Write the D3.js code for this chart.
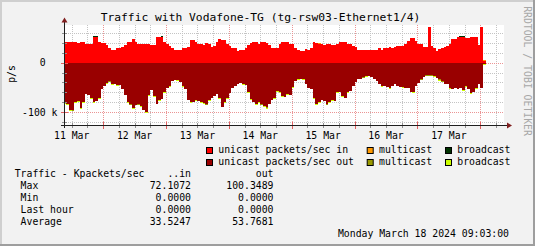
<!DOCTYPE html>
<html>
<head>
<meta charset="utf-8">
<script src="https://cdn.jsdelivr.net/npm/d3@7"></script>
<style>
  body { margin: 0; background: #f2f2f2; }
  svg { display: block; font-family: "DejaVu Sans Mono", monospace; }
  text { white-space: pre; }
</style>
</head>
<body>
<svg id="chart" width="535" height="246"></svg>
<script>
// graph window (UTC), hourly samples start at firstSample
const startTime = new Date(Date.UTC(2024, 2, 11, 9, 3));
const endTime = new Date(Date.UTC(2024, 2, 18, 9, 3));
const firstSample = new Date(Date.UTC(2024, 2, 11, 9, 0));

// Kpackets/sec, one value per hour
const unicastIn = [42.2,42.2,40.8,42.2,42.2,40.1,42.2,42.2,38.1,38.1,38.1,
  52.4,52.4,42.2,38.8,38.8,35.4,28.6,25.2,24.5,28.6,
  28.6,31.3,35.4,42.2,42.2,47.6,40.8,38.1,38.1,37.4,
  38.1,38.1,35.4,35.4,51.0,51.0,52.4,40.8,36.7,32.7,
  28.6,24.5,24.5,24.5,28.6,28.6,31.3,46.3,46.3,42.2,
  38.1,38.1,35.4,39.5,38.1,31.3,34.0,40.8,47.6,46.3,
  46.3,38.1,32.7,28.6,28.6,23.1,24.5,24.5,29.9,35.4,
  39.5,42.2,42.2,38.1,40.8,42.2,39.5,35.4,29.9,29.9,
  28.6,38.1,42.2,42.2,40.8,38.1,38.1,29.9,24.5,23.1,
  23.1,27.2,24.5,29.9,40.8,39.5,38.1,37.1,35.4,38.1,
  38.1,35.4,35.4,38.1,40.8,40.8,40.8,38.1,38.1,34.0,
  31.3,25.9,25.9,24.5,24.5,24.5,24.5,24.5,24.5,28.6,
  24.5,29.9,28.6,31.3,28.6,31.3,32.7,34.0,34.0,38.1,
  43.5,50.3,49.0,43.5,38.1,36.7,31.3,31.3,72.1,34.0,
  29.9,23.1,27.2,28.6,31.3,34.0,36.7,47.6,47.6,51.7,
  52.4,52.4,50.3,49.0,51.7,51.7,51.7,35.4,71.5,4.1];

const multicastIn = [0.3,0.3,0.3,0.3,0.3,0.3,0.3,0.3,0.3,0.3,0.3,
  0.3,0.3,0.3,0.3,0.3,0.3,0.3,0.3,0.3,0.3,
  0.3,0.3,0.3,0.3,0.3,0.3,0.3,0.3,0.3,0.3,
  0.3,0.3,0.3,0.3,0.3,0.3,0.3,0.3,0.3,0.3,
  0.3,0.3,0.3,0.3,0.3,0.3,0.3,0.3,0.3,0.3,
  0.3,0.3,0.3,0.3,0.3,0.3,0.3,0.3,0.3,0.3,
  0.3,0.3,0.3,0.3,0.3,0.3,0.3,0.3,0.3,0.3,
  0.3,0.3,0.3,0.3,0.3,0.3,0.3,0.3,0.3,0.3,
  0.3,0.3,0.3,0.3,1.5,0.3,0.3,0.3,0.3,0.3,
  0.3,0.3,0.3,0.3,0.3,0.3,1.2,0.3,0.3,0.3,
  0.3,0.3,0.3,0.3,0.3,0.3,0.3,0.3,0.3,0.3,
  0.3,0.3,0.3,0.3,0.3,0.3,0.3,0.3,0.3,0.3,
  0.3,0.3,0.3,0.3,0.3,0.3,0.3,0.3,0.3,0.3,
  0.3,0.3,0.3,0.3,0.3,0.3,0.3,0.3,0.3,0.3,
  0.3,0.3,0.3,0.3,0.3,0.3,0.3,0.3,0.3,0.3,
  0.3,0.3,0.3,0.3,0.3,0.3,0.3,0.3,0.3,0.3];

const broadcastIn = [0.1,0.1,0.1,0.1,0.1,0.1,0.1,0.1,0.1,0.1,0.1,
  0.1,0.1,0.1,0.1,0.1,0.1,0.1,0.1,0.1,0.1,
  0.1,0.1,0.1,0.1,0.1,0.1,0.1,0.1,0.1,0.1,
  0.1,0.1,0.1,0.1,0.1,0.1,0.1,0.1,0.1,0.1,
  0.1,0.1,0.1,0.1,0.1,0.1,0.1,0.1,0.1,0.1,
  0.1,0.1,0.1,0.1,0.1,0.1,0.1,0.1,0.1,0.1,
  0.1,0.1,0.1,0.1,0.1,0.1,0.1,0.1,0.1,0.1,
  0.1,0.1,0.1,0.1,0.1,0.1,0.1,0.1,0.1,0.1,
  0.1,0.1,0.1,0.1,0.1,0.1,0.1,0.1,0.1,0.1,
  0.1,0.1,0.1,0.1,0.1,0.1,0.1,0.1,0.1,0.1,
  0.1,0.1,0.1,0.1,0.1,0.1,0.1,0.1,0.1,0.1,
  0.1,0.1,0.1,0.1,0.1,0.1,0.1,0.1,0.1,0.1,
  0.1,0.1,0.1,0.1,0.1,0.1,0.1,0.1,0.1,0.1,
  0.1,0.1,0.1,0.1,0.1,0.1,0.1,0.1,0.1,0.1,
  0.1,0.1,0.1,0.1,0.1,0.1,0.1,0.1,0.1,0.1,
  0.1,0.1,0.1,0.1,0.1,0.1,0.1,0.1,0.1,0.1];

const unicastOut = [81.6,83.0,95.2,96.6,80.3,77.6,91.2,80.3,63.3,65.3,70.7,
  78.9,77.6,72.1,53.1,46.3,40.8,38.1,43.5,43.5,44.9,
  44.9,53.1,65.3,80.3,84.4,91.2,85.7,84.4,88.4,95.2,
  100.3,64.6,55.8,68.0,83.0,76.2,72.8,59.9,51.7,46.3,
  36.7,35.4,35.4,39.5,46.3,53.1,74.8,80.3,78.9,76.2,
  77.6,80.3,82.3,84.4,76.2,70.7,66.7,62.6,72.1,89.8,
  80.3,72.1,61.2,50.3,46.3,42.2,40.8,42.9,44.9,59.9,
  73.5,78.9,83.0,80.3,84.4,87.1,90.5,83.0,74.8,72.1,
  56.5,59.9,68.0,69.4,63.9,65.3,48.3,36.7,32.7,32.7,
  32.7,42.2,50.3,53.1,72.1,83.0,80.3,74.8,77.6,84.4,
  80.3,74.8,77.6,59.9,58.5,68.0,70.7,59.9,56.5,46.3,
  39.5,32.7,32.7,29.9,27.2,27.2,28.6,32.7,36.7,42.9,
  47.6,46.3,49.0,50.3,46.3,43.5,46.3,49.0,49.0,50.3,
  51.7,58.5,59.9,46.3,40.8,34.0,28.6,25.9,25.9,25.9,
  27.2,31.3,34.0,38.1,42.2,43.5,51.7,53.1,51.7,53.1,
  51.7,54.4,47.6,53.1,61.2,58.5,50.3,43.5,50.3,3.4];

const multicastOut = [0.2,0.2,0.2,0.2,0.2,0.2,0.2,0.2,0.2,0.2,0.2,
  0.2,0.2,0.2,0.2,0.2,0.2,0.2,0.2,0.2,0.2,
  0.2,0.2,0.2,0.2,0.2,0.2,0.2,0.2,0.2,0.2,
  0.2,0.2,0.2,0.2,0.2,0.2,0.2,0.2,0.2,0.2,
  0.2,0.2,0.2,0.2,0.2,0.2,0.2,0.2,0.2,0.2,
  0.2,0.2,0.2,0.2,0.2,0.2,0.2,0.2,0.2,0.2,
  0.2,0.2,0.2,0.2,0.2,0.2,0.2,0.2,0.2,0.2,
  0.2,0.2,0.2,0.2,0.2,0.2,0.2,0.2,0.2,0.2,
  0.2,0.2,0.2,0.2,0.2,0.2,0.2,0.2,0.2,0.2,
  0.2,0.2,0.2,0.2,0.2,0.2,0.2,0.2,0.2,0.2,
  0.2,0.2,0.2,0.2,0.2,0.2,0.2,0.2,0.2,0.2,
  0.2,0.2,0.2,0.2,0.2,0.2,0.2,0.2,0.2,0.2,
  0.2,0.2,0.2,0.2,0.2,0.2,0.2,0.2,0.2,0.2,
  0.2,0.2,0.2,0.2,0.2,0.2,0.2,0.2,0.2,0.2,
  0.2,0.2,0.2,0.2,0.2,0.2,0.2,0.2,0.2,0.2,
  0.2,0.2,0.2,0.2,0.2,0.2,0.2,0.2,0.2,0.2];

const broadcastOut = [2,2,2,0.3,0.3,2,2,0.3,0.3,0.3,2,
  2,0.3,0.3,0.3,0.3,2,0.3,2,0.3,2,
  0.3,0.3,0.3,0.3,0.3,2,0.3,2,0.3,0.3,
  2,2,0.3,0.3,0.3,0.3,0.3,2,0.3,2,
  0.3,0.3,2,0.3,2,0.3,0.3,0.3,0.3,2,
  0.3,0.3,2,0.3,2,0.3,0.3,0.3,0.3,0.3,
  0.3,2,0.3,0.3,0.3,0.3,0.3,2,0.3,0.3,
  2,0.3,2,0.3,0.3,2,2,0.3,0.3,0.3,
  2,0.3,0.3,0.3,0.3,0.3,2,0.3,2,0.3,
  2,0.3,0.3,0.3,0.3,2,0.3,0.3,0.3,0.3,
  0.3,2,0.3,0.3,0.3,2,0.3,0.3,0.3,0.3,
  0.3,0.3,0.3,0.3,2,0.3,0.3,0.3,0.3,0.3,
  2,0.3,0.3,2,0.3,0.3,0.3,0.3,2,0.3,
  0.3,0.3,2,0.3,0.3,0.3,0.3,0.3,0.3,0.3,
  2,0.3,2,0.3,0.3,0.3,2,0.3,0.3,0.3,
  0.3,2,2,0.3,2,0.3,2,0.3,0.3,2];

const yMajorTicks = [0, -100];
const yMinorTicks = [60, 40, 20, -20, -40, -60, -80, -120];

const legendRows = [
  [{ label: "unicast packets/sec in", color: "#ff0000" }, { label: "multicast", color: "#ff9900" }, { label: "broadcast", color: "#003300" }],
  [{ label: "unicast packets/sec out", color: "#990000" }, { label: "multicast", color: "#999900" }, { label: "broadcast", color: "#ccff00" }]
];
const statNames = ["Max", "Min", "Last hour", "Average"];
const statIn = ["72.1072", "0.0000", "0.0000", "33.5247"];
const statOut = ["100.3489", "0.0000", "0.0000", "53.7681"];

function build() {
    let svg = d3.select('#chart');
    let plot = { left: 64, right: 504, top: 25, bottom: 125 };

    // frame + background
    svg.append('rect').attr('width', 535).attr('height', 246).attr('fill', '#f2f2f2');
    svg.append('path').attr('d', 'M0,0H535V2H2V246H0Z').attr('fill', '#cfcfcf');
    svg.append('path').attr('d', 'M535,0V246H0V244H533V0Z').attr('fill', '#9e9e9e');
    svg.append('rect')
    .attr('x', plot.left).attr('y', plot.top)
    .attr('width', plot.right - plot.left).attr('height', plot.bottom - plot.top)
    .attr('fill', '#ffffff');

    let x = d3.scaleUtc()
    .domain([startTime, endTime])
    .range([plot.left, plot.right]);

    let y = d3.scaleLinear()
    .domain([-126, 76])
    .range([plot.bottom, plot.top]);

    // grid
    let grid = svg.append('g').attr('class', 'grid');
    let minorX = d3.utcHour.every(6).range(startTime, endTime).filter(d => d.getUTCHours() !== 0);
    let majorX = d3.utcDay.range(startTime, endTime);
    grid.selectAll('line.vminor').data(minorX).enter().append('line')
    .attr('x1', d => Math.round(x(d)) + 0.5).attr('x2', d => Math.round(x(d)) + 0.5)
    .attr('y1', plot.top).attr('y2', plot.bottom)
    .attr('stroke', '#c4c4c4').attr('stroke-dasharray', '1,1');
    grid.selectAll('line.hminor').data(yMinorTicks).enter().append('line')
    .attr('x1', plot.left).attr('x2', plot.right)
    .attr('y1', d => Math.round(y(d)) + 0.5).attr('y2', d => Math.round(y(d)) + 0.5)
    .attr('stroke', '#c4c4c4').attr('stroke-dasharray', '1,1');
    grid.selectAll('line.vmajor').data(majorX).enter().append('line')
    .attr('x1', d => Math.round(x(d)) + 0.5).attr('x2', d => Math.round(x(d)) + 0.5)
    .attr('y1', plot.top).attr('y2', plot.bottom)
    .attr('stroke', '#eb9595').attr('stroke-dasharray', '1,1');
    grid.selectAll('line.hmajor').data(yMajorTicks).enter().append('line')
    .attr('x1', plot.left).attr('x2', plot.right)
    .attr('y1', d => Math.round(y(d)) + 0.5).attr('y2', d => Math.round(y(d)) + 0.5)
    .attr('stroke', '#eb9595').attr('stroke-dasharray', '1,1');

    // rows for the stack, plus one extra row to close the last step
    let rows = unicastIn.map((v, i) => ({
        t: d3.utcHour.offset(firstSample, i),
        ui: v, mi: multicastIn[i], bi: broadcastIn[i],
        uo: -unicastOut[i], mo: -multicastOut[i], bo: -broadcastOut[i]
    }));
    rows.push(Object.assign({}, rows[rows.length - 1], { t: d3.utcHour.offset(firstSample, rows.length) }));

    let stackIn = d3.stack().keys(['ui', 'mi', 'bi'])(rows);
    let stackOut = d3.stack().keys(['uo', 'mo', 'bo']).offset(d3.stackOffsetDiverging)(rows);
    let colors = { ui: '#ff0000', mi: '#ff9900', bi: '#003300', uo: '#990000', mo: '#999900', bo: '#ccff00' };

    let area = d3.area()
    .curve(d3.curveStepAfter)
    .x(d => x(d.data.t))
    .y0(d => y(d[0]))
    .y1(d => y(d[1]));

    svg.append('defs').append('clipPath')
    .attr('id', 'clip')
    .append('rect')
    .attr('x', plot.left).attr('y', plot.top)
    .attr('width', plot.right - plot.left).attr('height', plot.bottom - plot.top);

    svg.append('g')
    .attr('clip-path', 'url(#clip)')
    .selectAll('path')
    .data(stackIn.concat(stackOut))
    .enter()
    .append('path')
    .attr('d', area)
    .attr('fill', d => colors[d.key])
    .attr('shape-rendering', 'crispEdges');

    // axes
    let axes = svg.append('g');
    minorX.forEach(d => {
        let px = Math.round(x(d)) + 0.5;
        axes.append('line').attr('x1', px).attr('x2', px).attr('y1', 123).attr('y2', 128).attr('stroke', '#909090');
    });
    majorX.forEach(d => {
        let px = Math.round(x(d)) + 0.5;
        axes.append('line').attr('x1', px).attr('x2', px).attr('y1', 122).attr('y2', 129).attr('stroke', '#e06060');
    });
    yMinorTicks.forEach(d => {
        let py = Math.round(y(d)) + 0.5;
        axes.append('line').attr('x1', 62).attr('x2', 67).attr('y1', py).attr('y2', py).attr('stroke', '#909090');
    });
    yMajorTicks.forEach(d => {
        let py = Math.round(y(d)) + 0.5;
        axes.append('line').attr('x1', 61).attr('x2', 68).attr('y1', py).attr('y2', py).attr('stroke', '#e06060');
    });
    axes.append('line').attr('x1', 61).attr('x2', 508).attr('y1', 125.5).attr('y2', 125.5).attr('stroke', '#1f1f1f');
    axes.append('line').attr('x1', 64.5).attr('x2', 64.5).attr('y1', 21).attr('y2', 128).attr('stroke', '#1f1f1f');
    axes.append('path').attr('d', 'M507,122.5L512,125.5L507,128.5Z').attr('fill', '#801f1f');
    axes.append('path').attr('d', 'M61.5,22.5L64.5,17.5L67.5,22.5Z').attr('fill', '#801f1f');

    // x labels at noon of every day
    let labelDays = majorX.concat([d3.utcDay.floor(startTime)])
    .map(d => d3.utcHour.offset(d, 12))
    .filter(d => d > startTime && d < endTime);
    svg.selectAll('text.xlabel')
    .data(labelDays)
    .enter()
    .append('text')
    .attr('class', 'xlabel')
    .attr('x', d => x(d))
    .attr('y', 138.5)
    .attr('text-anchor', 'middle')
    .attr('font-size', '9.8px')
    .text(d => d3.utcFormat('%d %b')(d));

    // y labels
    svg.selectAll('text.ylabel')
    .data(yMajorTicks)
    .enter()
    .append('text')
    .attr('class', 'ylabel')
    .attr('x', 57.5)
    .attr('y', d => y(d) + 3.5)
    .attr('text-anchor', 'end')
    .attr('font-size', '9.8px')
    .text(d => d === 0 ? '0  ' : d + ' k');

    svg.append('text')
    .attr('transform', 'translate(11.5,74) rotate(-90)')
    .attr('text-anchor', 'middle')
    .attr('dominant-baseline', 'central')
    .attr('font-size', '9.8px')
    .text('p/s');

    // title + watermark
    svg.append('text')
    .attr('x', 260.5).attr('y', 21)
    .attr('text-anchor', 'middle')
    .attr('font-size', '11.3px')
    .text('Traffic with Vodafone-TG (tg-rsw03-Ethernet1/4)');

    svg.append('text')
    .attr('transform', 'translate(527.5,71) rotate(90)')
    .attr('text-anchor', 'middle')
    .attr('dominant-baseline', 'central')
    .attr('font-size', '9.8px')
    .attr('fill', '#a8a8a8')
    .text('RRDTOOL / TOBI OETIKER');

    // legend
    let legendX = [206, 366.7, 445];
    legendRows.forEach((row, r) => {
        let base = 153 + r * 12;
        row.forEach((item, c) => {
            svg.append('rect')
            .attr('x', legendX[c] + 0.5).attr('y', base - 5.5)
            .attr('width', 6).attr('height', 6)
            .attr('fill', item.color)
            .attr('stroke', '#000');
            svg.append('text')
            .attr('x', legendX[c] + 12.3).attr('y', base)
            .attr('font-size', '9.8px')
            .text(item.label);
        });
    });

    svg.append('text').attr('x', 14.7).attr('y', 177).attr('font-size', '9.8px').text('Traffic - Kpackets/sec');
    svg.append('text').attr('x', 191).attr('y', 177).attr('font-size', '9.8px').attr('text-anchor', 'end').text('..in');
    svg.append('text').attr('x', 273.5).attr('y', 177).attr('font-size', '9.8px').attr('text-anchor', 'end').text('out');

    statNames.forEach((name, i) => {
        let base = 189 + i * 12;
        svg.append('text').attr('x', 20.6).attr('y', base).attr('font-size', '9.8px').text(name);
        svg.append('text').attr('x', 191).attr('y', base).attr('font-size', '9.8px').attr('text-anchor', 'end').text(statIn[i]);
        svg.append('text').attr('x', 273.5).attr('y', base).attr('font-size', '9.8px').attr('text-anchor', 'end').text(statOut[i]);
    });

    svg.append('text')
    .attr('x', 509).attr('y', 237)
    .attr('text-anchor', 'end')
    .attr('font-size', '9.8px')
    .text('Monday March 18 2024 09:03:00');
}

build();
</script>
</body>
</html>
